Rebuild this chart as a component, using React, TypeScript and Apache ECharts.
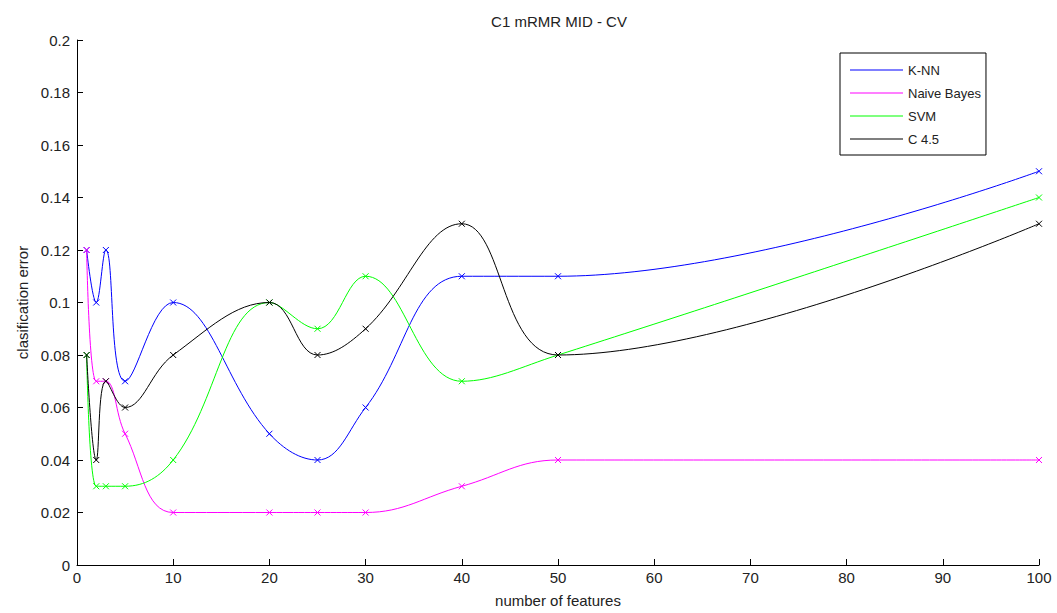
import React, { useEffect, useRef } from "react";
import * as echarts from "echarts";

const xValues = [1, 2, 3, 5, 10, 20, 25, 30, 40, 50, 100];
const knn = [0.12, 0.10, 0.12, 0.07, 0.10, 0.05, 0.04, 0.06, 0.11, 0.11, 0.15];
const naiveBayes = [0.12, 0.07, 0.07, 0.05, 0.02, 0.02, 0.02, 0.02, 0.03, 0.04, 0.04];
const svm = [0.08, 0.03, 0.03, 0.03, 0.04, 0.10, 0.09, 0.11, 0.07, 0.08, 0.14];
const c45 = [0.08, 0.04, 0.07, 0.06, 0.08, 0.10, 0.08, 0.09, 0.13, 0.08, 0.13];

const seriesDefs = [
  { name: "K-NN", data: knn, color: "#0000ff" },
  { name: "Naive Bayes", data: naiveBayes, color: "#ff00ff" },
  { name: "SVM", data: svm, color: "#00ff00" },
  { name: "C 4.5", data: c45, color: "#000000" },
];

const FONT = "'Liberation Sans', Arial, sans-serif";
const LINE_ICON = "path://M0,0L53,0L53,1L0,1Z";

export default function App() {
  const ref = useRef<HTMLDivElement>(null);
  useEffect(() => {
    if (!ref.current) return;
    const chart = echarts.init(ref.current, null, { renderer: "svg" });
    chart.setOption({
      animation: false,
      backgroundColor: "#ffffff",
      title: {
        text: "C1 mRMR MID - CV",
        left: 554,
        textAlign: "center",
        top: 9,
        textStyle: { fontFamily: FONT, fontSize: 15, fontWeight: "normal", color: "#222" },
      },
      legend: {
        left: 840,
        top: 53,
        orient: "vertical",
        itemWidth: 53,
        itemHeight: 1,
        itemGap: 7,
        padding: [9, 5, 8, 10],
        borderColor: "#000",
        borderWidth: 1,
        backgroundColor: "#fff",
        textStyle: { fontFamily: FONT, fontSize: 13, lineHeight: 16, color: "#222" },
        data: seriesDefs.map((s) => ({
          name: s.name,
          icon: LINE_ICON,
          itemStyle: { color: s.color, borderWidth: 0 },
          lineStyle: { width: 0 },
        })),
      },
      grid: {
        left: 77,
        top: 40,
        width: 962,
        height: 525,
        containLabel: false,
        outerBoundsMode: "none",
      },
      xAxis: {
        type: "value",
        min: 0,
        max: 100,
        interval: 10,
        name: "number of features",
        nameLocation: "middle",
        nameGap: 28,
        nameTextStyle: { fontFamily: FONT, fontSize: 15, color: "#222" },
        axisLine: { show: true, lineStyle: { color: "#000", width: 1 } },
        axisTick: { show: true, inside: true, length: 6, lineStyle: { color: "#000" } },
        axisLabel: { fontFamily: FONT, fontSize: 15, color: "#222", margin: 5 },
        splitLine: { show: false },
      },
      yAxis: {
        type: "value",
        min: 0,
        max: 0.2,
        interval: 0.02,
        name: "clasification error",
        nameLocation: "middle",
        nameGap: 46,
        nameTextStyle: { fontFamily: FONT, fontSize: 15, color: "#222" },
        axisLine: { show: true, lineStyle: { color: "#000", width: 1 } },
        axisTick: { show: true, inside: true, length: 6, lineStyle: { color: "#000" } },
        axisLabel: {
          fontFamily: FONT,
          fontSize: 15,
          color: "#222",
          margin: 7,
          formatter: (v: number) => String(parseFloat(v.toFixed(2))),
        },
        splitLine: { show: false },
      },
      series: seriesDefs.map((s) => ({
        name: s.name,
        type: "line",
        smooth: 0.4,
        data: xValues.map((x, i) => [x, s.data[i]]),
        symbol: "path://M0,0L10,10M10,0L0,10",
        symbolSize: 6,
        lineStyle: { color: s.color, width: 1 },
        itemStyle: { color: "transparent", borderColor: s.color, borderWidth: 1 },
        color: s.color,
      })),
    });
    return () => chart.dispose();
  }, []);
  return (
    <div
      ref={ref}
      style={{ position: "fixed", left: 0, top: 0, width: 1057, height: 613, background: "#fff" }}
    />
  );
}
